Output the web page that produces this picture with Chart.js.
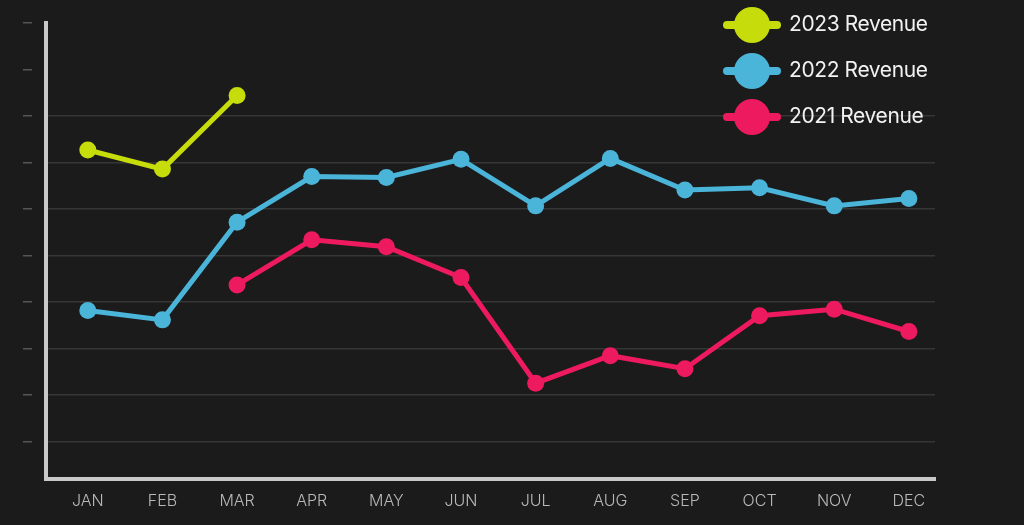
<!DOCTYPE html>
<html>
<head>
<meta charset="utf-8">
<script src="https://cdn.jsdelivr.net/npm/chart.js@4.4.1/dist/chart.umd.min.js"></script>
<style>
  html, body { margin: 0; padding: 0; background: #1b1b1b; }
  #wrap { position: relative; width: 1024px; height: 525px; }
  #legend { position: absolute; left: 722px; top: 0; font-family: Inter, "Noto Sans", sans-serif; }
  .item { position: absolute; left: 0; height: 40px; width: 280px; }
  .item .bar { position: absolute; left: 1px; top: 16px; width: 58px; height: 8px; border-radius: 4px; }
  .item .dot { position: absolute; left: 12px; top: 2px; width: 36px; height: 36px; border-radius: 50%; }
  .item .txt { position: absolute; left: 67px; top: 6px; font-size: 21px; color: #f2f2f2; letter-spacing: -0.4px; white-space: nowrap; }
</style>
</head>
<body>
<div id="wrap">
  <canvas id="revChart" width="1024" height="525"></canvas>
  <div id="legend"></div>
</div>
<script>
const months = ['JAN', 'FEB', 'MAR', 'APR', 'MAY', 'JUN', 'JUL', 'AUG', 'SEP', 'OCT', 'NOV', 'DEC'];
const rev2023 = [6.27, 5.86, 7.44];
const rev2022 = [2.82, 2.62, 4.72, 5.70, 5.68, 6.07, 5.07, 6.09, 5.41, 5.46, 5.07, 5.23];
const rev2021 = [null, null, 3.37, 4.34, 4.19, 3.53, 1.26, 1.85, 1.57, 2.71, 2.85, 2.37];
const yTicks = [0, 1, 2, 3, 4, 5, 6, 7, 8, 9];

const series = [
    { label: '2023 Revenue', values: rev2023, color: '#c6dc0b' },
    { label: '2022 Revenue', values: rev2022, color: '#4bb4d9' },
    { label: '2021 Revenue', values: rev2021, color: '#ee1a5f' }
];

// html legend: line + big dot, like the original
const legendEl = document.getElementById('legend');
series.forEach((s, i) => {
    const item = document.createElement('div');
    item.className = 'item';
    item.style.top = (5 + i * 46) + 'px';
    item.innerHTML = `<div class="bar" style="background:${s.color}"></div><div class="dot" style="background:${s.color}"></div><div class="txt">${s.label}</div>`;
    legendEl.appendChild(item);
});

const ctx = document.getElementById('revChart').getContext('2d');
const revChart = new Chart(ctx, {
    type: 'line',
    data: {
        datasets: series.map(s => ({
            label: s.label,
            data: s.values.map((v, i) => ({ x: i, y: v })),
            borderColor: s.color,
            backgroundColor: s.color,
            pointBackgroundColor: s.color,
            pointBorderWidth: 0,
            pointRadius: 8.5,
            borderWidth: 5,
            tension: 0
        }))
    },
    options: {
        responsive: false,
        animation: false,
        layout: { padding: { left: 0, top: 23, right: 89, bottom: 0 } },
        plugins: { legend: { display: false }, tooltip: { enabled: false } },
        scales: {
            x: {
                type: 'linear',
                min: -0.56,
                max: 11.35,
                afterBuildTicks: scale => { scale.ticks = months.map((m, i) => ({ value: i })); },
                afterFit: scale => { scale.height = 46; },
                grid: { display: false, drawTicks: false },
                border: { display: true, color: '#c9c9c9', width: 4 },
                ticks: {
                    color: '#b9b9b9',
                    padding: 13,
                    font: { family: 'Inter', size: 16, weight: '300' },
                    callback: v => months[v]
                }
            },
            y: {
                min: -0.8,
                max: 9,
                afterBuildTicks: scale => { scale.ticks = yTicks.map(v => ({ value: v })); },
                afterFit: scale => { scale.width = 46; },
                grid: {
                    color: c => (c.tick && c.tick.value > 7 ? 'rgba(0,0,0,0)' : '#363636'),
                    lineWidth: 1.5,
                    drawTicks: true,
                    tickLength: 23,
                    tickColor: '#555555',
                    tickWidth: 1.5,
                    tickBorderDash: [9, 40]
                },
                border: { display: true, color: '#c9c9c9', width: 4 },
                ticks: { display: false }
            }
        }
    }
});
</script>
</body>
</html>
